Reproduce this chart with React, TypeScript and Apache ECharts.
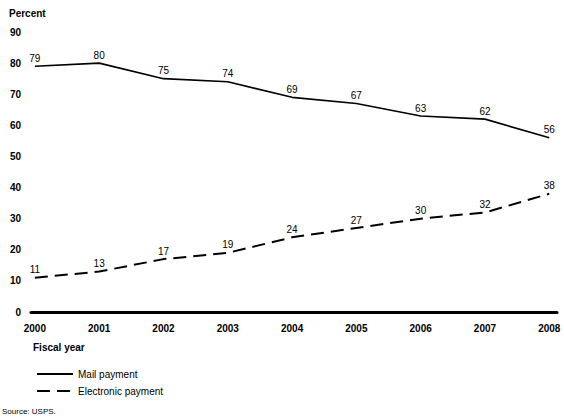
import React, { useEffect, useRef } from "react";
import * as echarts from "echarts";

const years = [2000, 2001, 2002, 2003, 2004, 2005, 2006, 2007, 2008];
const mailPayment = [79, 80, 75, 74, 69, 67, 63, 62, 56];
const electronicPayment = [11, 13, 17, 19, 24, 27, 30, 32, 38];
const yTicks = [0, 10, 20, 30, 40, 50, 60, 70, 80, 90];

const FONT = "'Liberation Sans', Arial, sans-serif";

export default function App() {
  const ref = useRef<HTMLDivElement>(null);
  useEffect(() => {
    if (!ref.current) return;
    const chart = echarts.init(ref.current, undefined, { renderer: "svg" });
    const label = {
      show: true,
      position: "top",
      distance: 3,
      color: "#000",
      fontSize: 10,
      fontFamily: FONT,
      formatter: (p: any) => String(p.value[1]),
    };
    chart.setOption({
      animation: false,
      backgroundColor: "#fff",
      textStyle: { fontFamily: FONT },
      grid: { left: 31, right: 7, top: 32, bottom: 105 },
      xAxis: {
        type: "value",
        min: 1999.94,
        max: 2008.12,
        splitLine: { show: false },
        axisLine: { show: true, onZero: true, lineStyle: { color: "#000", width: 3 } },
        axisTick: { show: false },
        axisLabel: {
          customValues: years,
          formatter: (v: number) => String(Math.round(v)),
          color: "#000",
          fontWeight: "bold",
          fontSize: 10,
          fontFamily: FONT,
          margin: 11,
        },
      },
      yAxis: {
        type: "value",
        min: 0,
        max: 90,
        interval: 10,
        name: "Percent",
        nameLocation: "end",
        nameGap: 14,
        nameTextStyle: {
          color: "#000",
          fontWeight: "bold",
          fontSize: 10,
          fontFamily: FONT,
          align: "left",
          padding: [0, 0, 0, -22],
        },
        axisLine: { show: false },
        axisTick: { show: false },
        splitLine: { show: false },
        axisLabel: {
          customValues: yTicks,
          color: "#000",
          fontWeight: "bold",
          fontSize: 10,
          fontFamily: FONT,
          margin: 10,
        },
      },
      legend: {
        orient: "vertical",
        left: 31,
        top: 364,
        itemWidth: 36,
        itemHeight: 8,
        itemGap: 7,
        itemStyle: { opacity: 0 },
        textStyle: { color: "#000", fontSize: 10, fontFamily: FONT },
        data: ["Mail payment", "Electronic payment"],
      },
      graphic: [
        {
          type: "text",
          left: 33,
          top: 342,
          style: { text: "Fiscal year", fill: "#000", font: `bold 10px ${FONT}` },
        },
        {
          type: "text",
          left: 2,
          top: 407,
          style: { text: "Source: USPS.", fill: "#000", font: `8px ${FONT}` },
        },
      ],
      series: [
        {
          name: "Mail payment",
          type: "line",
          data: years.map((y, i) => [y, mailPayment[i]]),
          symbol: "circle",
          symbolSize: 0,
          lineStyle: { color: "#000", width: 1.6 },
          itemStyle: { color: "#000" },
          label,
        },
        {
          name: "Electronic payment",
          type: "line",
          data: years.map((y, i) => [y, electronicPayment[i]]),
          symbol: "circle",
          symbolSize: 0,
          lineStyle: { color: "#000", width: 2, type: [13, 7] },
          itemStyle: { color: "#000" },
          label,
        },
      ],
    });
    return () => chart.dispose();
  }, []);
  return (
    <div
      ref={ref}
      style={{ position: "fixed", left: 0, top: 0, width: 564, height: 417 }}
    />
  );
}
